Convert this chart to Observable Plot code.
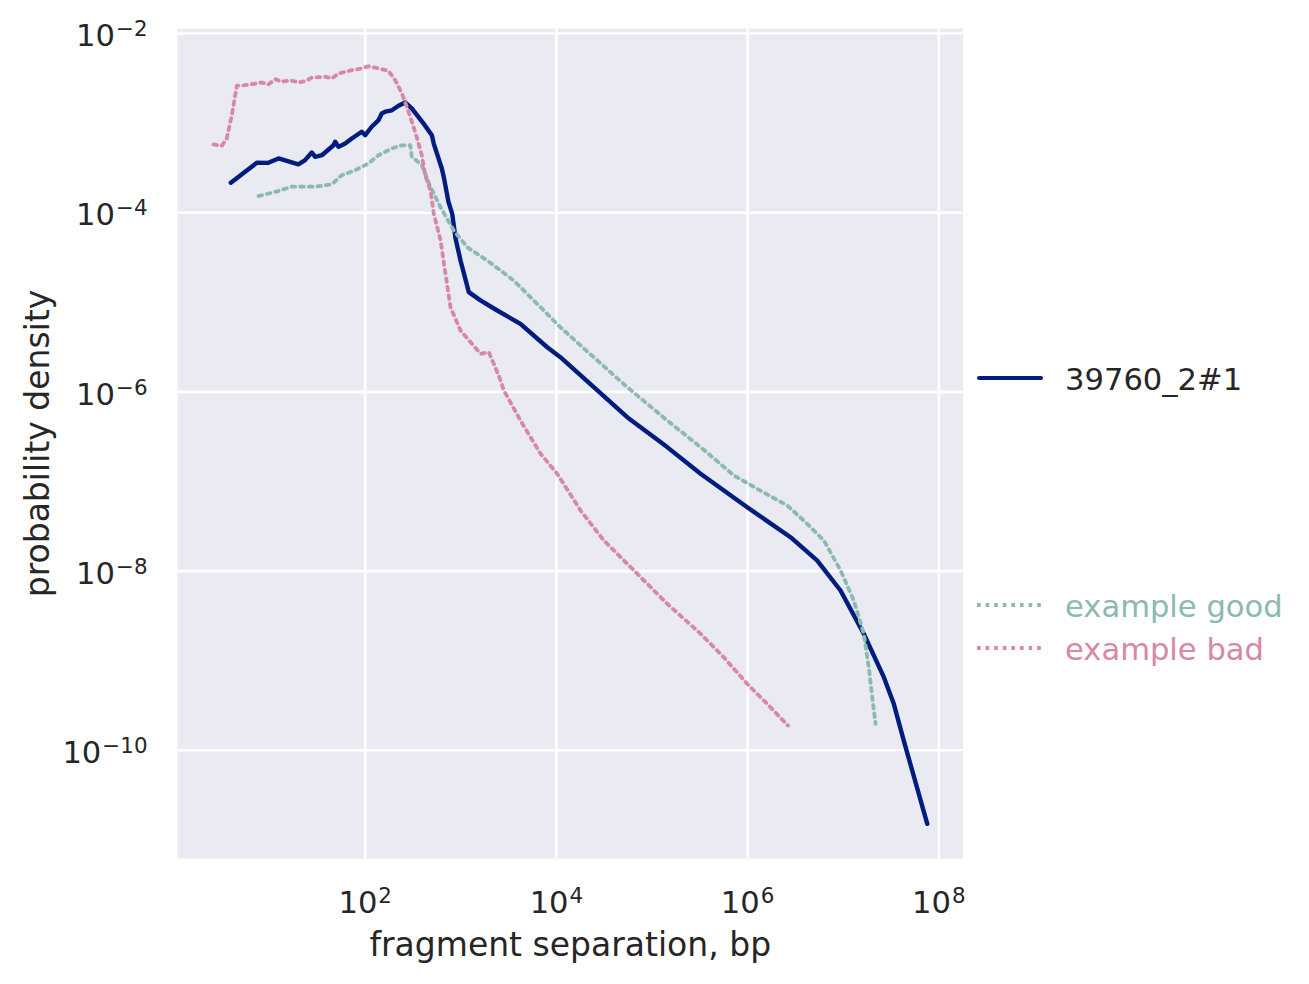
<!DOCTYPE html>
<html><head><meta charset="utf-8">
<script src="https://cdn.jsdelivr.net/npm/d3@7"></script>
<script src="https://cdn.jsdelivr.net/npm/@observablehq/plot@0.6"></script>
<style>
body{margin:0;background:#fff;font-family:"DejaVu Sans",sans-serif;}
#wrap{position:relative;width:1309px;height:984px;overflow:hidden;}
#legend{position:absolute;left:0;top:0;pointer-events:none;}
</style></head><body><div id="wrap"></div>
<script>
// ---- data ----
const seriesNames = ["39760_2#1", "example good", "example bad"];
const seriesColors = ["#001c7f", "#8cb9b2", "#d688a6"];

const sampleX = [3.93, 7.35, 9.7, 12.4, 20, 23.5, 27.6, 30, 35.2, 46.6, 48.5, 52.6, 61.8, 72.4, 92, 100, 117, 138, 149, 162, 190, 223, 262, 307, 410, 498, 522, 633, 664, 743, 813, 881, 993, 1213, 1607, 2404, 4207, 8017, 1.10e4, 2.46e4, 5.5e4, 1.44e5, 3.22e5, 9.9e5, 2.81e6, 5.35e6, 9.37e6, 1.64e7, 2.66e7, 3.38e7, 4.3e7, 7.57e7];
const sampleY = [2.16e-4, 3.61e-4, 3.6e-4, 4.03e-4, 3.47e-4, 3.86e-4, 4.7e-4, 4.2e-4, 4.38e-4, 5.66e-4, 6.18e-4, 5.43e-4, 5.91e-4, 6.73e-4, 8.0e-4, 7.33e-4, 9.1e-4, 1.08e-3, 1.28e-3, 1.34e-3, 1.39e-3, 1.56e-3, 1.70e-3, 1.46e-3, 9.8e-4, 7.33e-4, 5.87e-4, 3.11e-4, 2.49e-4, 1.32e-4, 9.7e-5, 5.15e-5, 2.93e-5, 1.30e-5, 1.05e-5, 8.1e-6, 5.75e-6, 3.15e-6, 2.44e-6, 1.13e-6, 5.22e-7, 2.42e-7, 1.22e-7, 5.16e-8, 2.39e-8, 1.31e-8, 6.07e-9, 2.0e-9, 6.55e-10, 3.3e-10, 1.28e-10, 1.51e-11];

const goodX = [7.66, 11.5, 17.1, 30, 44.8, 56.9, 78.5, 108, 138, 190, 234, 296, 307, 391, 482, 614, 845, 1167, 1888, 3581, 6825, 1.10e4, 1.79e4, 5.5e4, 1.44e5, 3.22e5, 7.18e5, 1.26e6, 2.6e6, 4.2e6, 6.27e6, 9.37e6, 1.29e7, 1.64e7, 1.85e7, 2.01e7, 2.18e7];
const goodY = [1.53e-4, 1.71e-4, 1.95e-4, 1.95e-4, 2.08e-4, 2.62e-4, 2.98e-4, 3.54e-4, 4.38e-4, 5.21e-4, 5.62e-4, 5.66e-4, 4.24e-4, 3.39e-4, 1.93e-4, 1.15e-4, 6.32e-5, 4.12e-5, 2.93e-5, 1.75e-5, 8.81e-6, 5.27e-6, 3.30e-6, 1.13e-6, 4.8e-7, 2.42e-7, 1.17e-7, 8.28e-8, 5.4e-8, 3.37e-8, 2.2e-8, 1.02e-8, 4.7e-9, 2.0e-9, 8.45e-10, 3.92e-10, 1.98e-10];

const badX = [2.59, 3.16, 3.56, 4.02, 4.54, 5.56, 8.28, 9.7, 11.5, 13.4, 16.4, 20, 23.5, 27.6, 38.2, 44.8, 52.6, 72.4, 92, 108, 138, 175, 206, 242, 284, 333, 391, 424, 482, 522, 614, 692, 780, 993, 1607, 1963, 2496, 2818, 4207, 6825, 1.02e4, 1.79e4, 3.13e4, 6.46e4, 1.44e5, 3.22e5, 5.64e5, 9.9e5, 1.6e6, 2.64e6];
const badY = [5.77e-4, 5.58e-4, 6.73e-4, 1.22e-3, 2.61e-3, 2.65e-3, 2.84e-3, 2.70e-3, 3.09e-3, 2.89e-3, 3.01e-3, 2.84e-3, 2.94e-3, 3.21e-3, 3.29e-3, 3.15e-3, 3.58e-3, 3.89e-3, 4.07e-3, 4.31e-3, 4.07e-3, 3.84e-3, 3.01e-3, 2.14e-3, 1.34e-3, 8.0e-4, 4.38e-4, 2.62e-4, 1.77e-4, 9.7e-5, 4.9e-5, 2.08e-5, 8.81e-6, 4.84e-6, 2.66e-6, 2.77e-6, 1.52e-6, 1.04e-6, 4.8e-7, 2.04e-7, 1.22e-7, 4.74e-8, 2.2e-8, 1.02e-8, 4.32e-9, 2.0e-9, 1.09e-9, 5.52e-10, 3.3e-10, 1.89e-10];

const xTicks = [1e2, 1e4, 1e6, 1e8];
const yTicks = [1e-2, 1e-4, 1e-6, 1e-8, 1e-10];
const xDomain = [1.088, 1.79e8];
const yDomain = [6.2e-12, 1.137e-2];
const xLabel = "fragment separation, bp";
const yLabel = "probability density";

// ---- build tables ----
const rows = (xs, ys, name) => xs.map((x, i) => ({x, y: ys[i], series: name}));
const sample = rows(sampleX, sampleY, seriesNames[0]);
const good = rows(goodX, goodY, seriesNames[1]);
const bad = rows(badX, badY, seriesNames[2]);

const expFmt = d => "10^" + Math.round(Math.log10(d));
const gridStyle = {stroke: "white", strokeOpacity: 1, strokeWidth: 2.6};
const dots = "3.6,5";
const lw = 4.4;
const dw = 3.8;

const chart = Plot.plot({
  width: 1309,
  height: 984,
  marginLeft: 177,
  marginRight: 346.5,
  marginTop: 28,
  marginBottom: 126,
  style: {fontFamily: "DejaVu Sans", fontSize: "30.6px", color: "#262626", background: "white", overflow: "visible"},
  x: {type: "log", domain: xDomain},
  y: {type: "log", domain: yDomain},
  marks: [
    Plot.frame({fill: "#eaeaf2", stroke: "none"}),
    Plot.gridX(xTicks, gridStyle),
    Plot.gridY(yTicks, gridStyle),
    Plot.axisX(xTicks, {tickSize: 0, tickPadding: 33, tickFormat: expFmt, label: null, fontSize: 30.6}),
    Plot.axisY(yTicks, {tickSize: 0, tickPadding: 30, tickFormat: expFmt, label: null, fontSize: 30.6, dy: 3}),
    Plot.line(sample, {x: "x", y: "y", stroke: seriesColors[0], strokeWidth: lw, strokeLinejoin: "round", strokeLinecap: "round"}),
    Plot.line(good, {x: "x", y: "y", stroke: seriesColors[1], strokeWidth: dw, strokeDasharray: dots}),
    Plot.line(bad, {x: "x", y: "y", stroke: seriesColors[2], strokeWidth: dw, strokeDasharray: dots}),
    Plot.text([xLabel], {frameAnchor: "bottom", lineAnchor: "middle", textAnchor: "middle", dy: 87, fontSize: 33, fill: "#262626"}),
    Plot.text([yLabel], {frameAnchor: "left", lineAnchor: "middle", textAnchor: "middle", dx: -139, rotate: -90, fontSize: 33, fill: "#262626"})
  ]
});

// superscript exponents in tick labels
const NS = "http://www.w3.org/2000/svg";
chart.querySelectorAll("text").forEach(t => {
  const m = /^10\^(-?\d+)$/.exec(t.textContent.trim());
  if (!m) return;
  t.textContent = "";
  const base = document.createElementNS(NS, "tspan");
  base.textContent = "10";
  const ex = document.createElementNS(NS, "tspan");
  ex.textContent = m[1].replace("-", "\u2212");
  ex.setAttribute("font-size", "21.4");
  ex.setAttribute("dy", "-10");
  ex.setAttribute("dx", "1");
  t.append(base, ex);
});

const wrap = document.getElementById("wrap");
wrap.appendChild(chart);

// legend (outside the plot area, right side)
const leg = d3.select(wrap).append("svg").attr("id", "legend")
  .attr("width", 1309).attr("height", 984)
  .style("font-family", "DejaVu Sans").style("font-size", "30.6px");
const legendRows = [
  {name: seriesNames[0], color: seriesColors[0], dash: null, y: 378, text: "#262626"},
  {name: seriesNames[1], color: seriesColors[1], dash: dots, y: 605, text: seriesColors[1]},
  {name: seriesNames[2], color: seriesColors[2], dash: dots, y: 648, text: seriesColors[2]}
];
legendRows.forEach(r => {
  leg.append("line").attr("x1", r.dash ? 977 : 979).attr("x2", 1041).attr("y1", r.y).attr("y2", r.y)
    .attr("stroke", r.color).attr("stroke-width", r.dash ? dw : 4)
    .attr("stroke-linecap", r.dash ? "butt" : "round")
    .attr("stroke-dasharray", r.dash);
  leg.append("text").attr("x", 1065).attr("y", r.y + 12).attr("fill", r.text).text(r.name);
});
</script></body></html>
